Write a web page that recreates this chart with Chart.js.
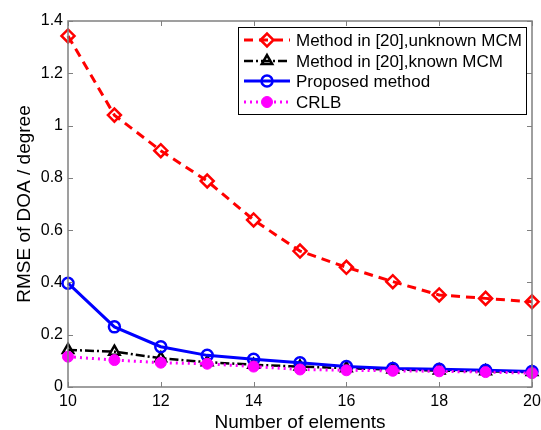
<!DOCTYPE html>
<html><head><meta charset="utf-8">
<script src="https://cdn.jsdelivr.net/npm/chart.js@4/dist/chart.umd.min.js"></script>
<style>html,body{margin:0;padding:0;background:#fff}#w{width:541px;height:430px}</style>
</head><body><div id="w"><canvas id="c" width="541" height="430"></canvas></div>
<script>
const elements = [10,11,12,13,14,15,16,17,18,19,20];
const seriesNames = ["Method in [20],unknown MCM","Method in [20],known MCM","Proposed method","CRLB"];
const unknownMCM = [1.343,1.040,0.904,0.788,0.639,0.520,0.458,0.403,0.352,0.339,0.326];
const knownMCM   = [0.142,0.135,0.110,0.095,0.085,0.078,0.072,0.067,0.063,0.060,0.057];
const proposed   = [0.397,0.230,0.154,0.121,0.106,0.093,0.078,0.071,0.068,0.064,0.059];
const crlb       = [0.116,0.103,0.093,0.089,0.078,0.067,0.064,0.062,0.060,0.057,0.053];
const yTicks = [0,0.2,0.4,0.6,0.8,1,1.2,1.4];
const xTicks = [10,12,14,16,18,20];

const FONT = "'Liberation Sans', Arial, Helvetica, sans-serif";
const styles = [
  {color:'#ff0000', dash:[9,6], width:3, pointStyle:'rectRot', radius:6.5, fill:'rgba(0,0,0,0)', pw:2.5, order:3},
  {color:'#000000', dash:[9,3,2,3], width:2.5, pointStyle:'triangle', radius:6, fill:'rgba(0,0,0,0)', pw:2.5, order:2},
  {color:'#0000ff', dash:[], width:3, pointStyle:'circle', radius:5.5, fill:'rgba(0,0,0,0)', pw:2.5, order:1},
  {color:'#ff00ff', dash:[2,4], width:3, pointStyle:'circle', radius:5.5, fill:'#ff00ff', pw:1, order:0}
];
const values = [unknownMCM, knownMCM, proposed, crlb];
const datasets = values.map((v,i)=>({
  label: seriesNames[i],
  data: elements.map((x,j)=>({x:x,y:v[j]})),
  borderColor: styles[i].color,
  borderDash: styles[i].dash,
  borderWidth: styles[i].width,
  pointStyle: styles[i].pointStyle,
  pointRadius: styles[i].radius,
  pointBorderColor: styles[i].color,
  pointBackgroundColor: styles[i].fill,
  pointBorderWidth: styles[i].pw,
  tension: 0,
  fill: false,
  order: styles[i].order,
  clip: false
}));

const framePlugin = {
  id:'frame',
  afterDatasetsDraw(chart){
    const ctx = chart.ctx, a = chart.chartArea;
    const xs = chart.scales.x, ys = chart.scales.y;
    ctx.save();
    ctx.strokeStyle = '#808080';
    ctx.lineWidth = 1.5;
    ctx.setLineDash([]);
    ctx.strokeRect(a.left, a.top, a.right-a.left, a.bottom-a.top);
    ctx.lineWidth = 1;
    const L = 5;
    xTicks.forEach(t=>{
      const px = Math.round(xs.getPixelForValue(t))+0.5;
      ctx.beginPath(); ctx.moveTo(px,a.bottom); ctx.lineTo(px,a.bottom-L);
      ctx.moveTo(px,a.top); ctx.lineTo(px,a.top+L); ctx.stroke();
    });
    yTicks.forEach(t=>{
      const py = Math.round(ys.getPixelForValue(t))+0.5;
      ctx.beginPath(); ctx.moveTo(a.left,py); ctx.lineTo(a.left+L,py);
      ctx.moveTo(a.right,py); ctx.lineTo(a.right-L,py); ctx.stroke();
    });
    // legend
    const bx = 238, by = 27, bw = 288, bh = 87;
    ctx.fillStyle = '#fff';
    ctx.fillRect(bx,by,bw,bh);
    ctx.strokeStyle = '#000';
    ctx.lineWidth = 1;
    ctx.strokeRect(bx+0.5,by+0.5,bw,bh);
    const rows = [40,61,81,102];
    ctx.font = '17px ' + FONT;
    ctx.textBaseline = 'middle';
    seriesNames.forEach((name,i)=>{
      const s = styles[i], y = rows[i];
      ctx.strokeStyle = s.color;
      ctx.lineWidth = s.width;
      ctx.setLineDash(s.dash);
      ctx.beginPath(); ctx.moveTo(244,y); ctx.lineTo(290,y); ctx.stroke();
      ctx.setLineDash([]);
      ctx.fillStyle = s.fill;
      ctx.strokeStyle = s.color;
      ctx.lineWidth = s.pw;
      Chart.helpers.drawPoint(ctx,{pointStyle:s.pointStyle, radius:s.radius, borderWidth:s.pw, rotation:0}, 267, y);
      ctx.fillStyle = '#000';
      ctx.textAlign = 'left';
      ctx.fillText(name, 296, y+1);
    });
    ctx.restore();
  }
};

new Chart(document.getElementById('c'),{
  type:'line',
  data:{datasets},
  options:{
    responsive:false,
    animation:false,
    layout:{padding:{top:21,right:7,left:0,bottom:0}},
    plugins:{legend:{display:false},tooltip:{enabled:false}},
    scales:{
      x:{type:'linear',min:10,max:20,
        afterBuildTicks(s){ s.ticks = xTicks.map(v=>({value:v})); },
        afterFit(s){ s.height = 43; s.paddingLeft = 0; s.paddingRight = 0; },
        grid:{display:false, drawTicks:false}, border:{display:false},
        ticks:{color:'#000',font:{family:FONT,size:16},padding:5,maxRotation:0,autoSkip:false},
        title:{display:true,text:'Number of elements',color:'#000',font:{family:FONT,size:19,lineHeight:0.75},padding:{top:0,bottom:0}}
      },
      y:{type:'linear',min:0,max:1.4,
        afterBuildTicks(s){ s.ticks = yTicks.map(v=>({value:v})); },
        afterFit(s){ s.width = 68; s.paddingTop = 0; s.paddingBottom = 0; },
        grid:{display:false, drawTicks:false}, border:{display:false},
        ticks:{color:'#000',font:{family:FONT,size:16},padding:5,callback:v=>String(v)},
        title:{display:true,text:'RMSE of DOA / degree',color:'#000',font:{family:FONT,size:19},padding:{top:13,bottom:0}}
      }
    }
  },
  plugins:[framePlugin]
});
</script>
</body></html>
